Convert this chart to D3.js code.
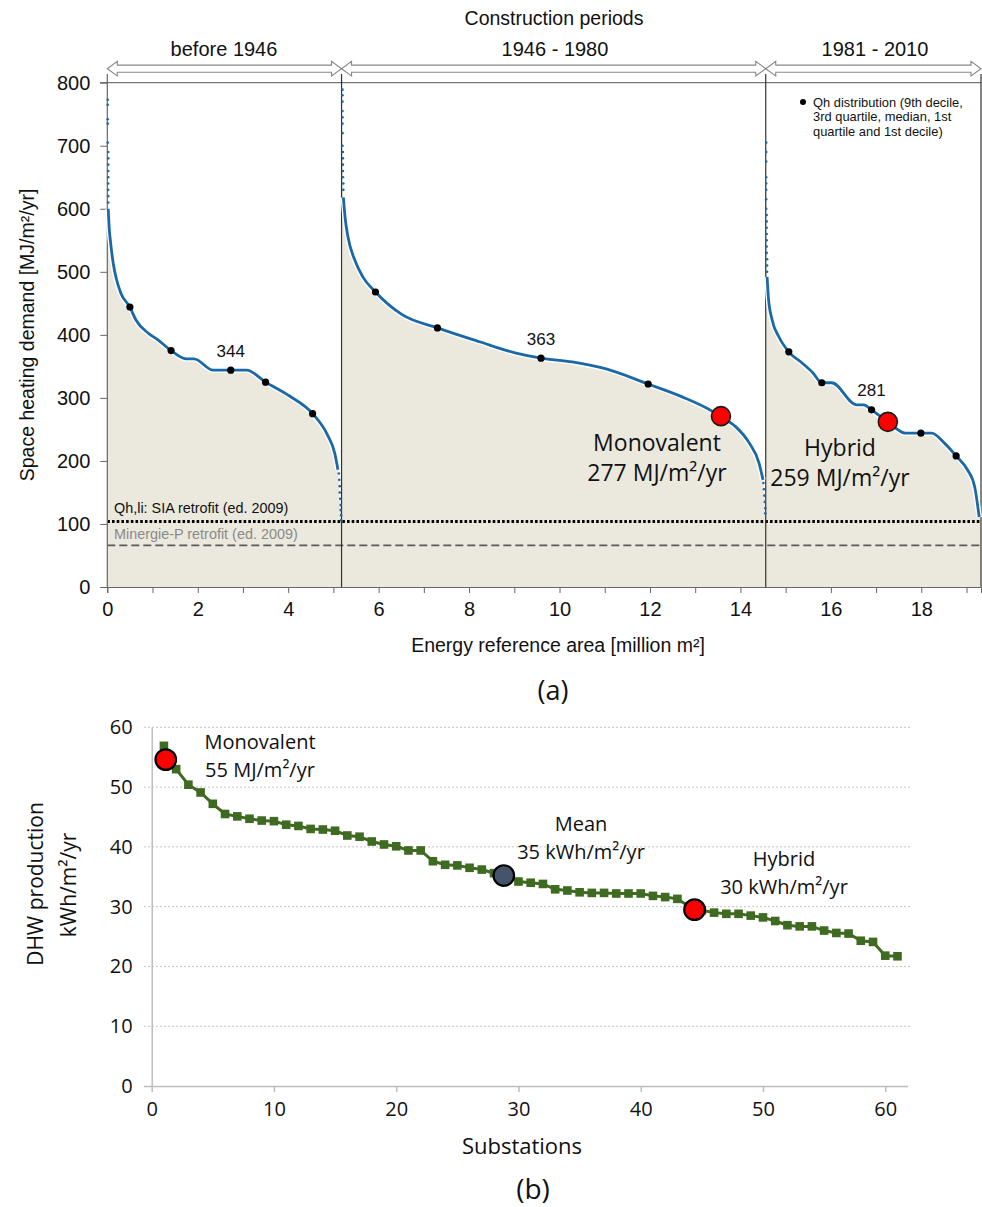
<!DOCTYPE html>
<html>
<head>
<meta charset="utf-8">
<script src="https://cdn.jsdelivr.net/npm/d3@7"></script>
<style>
  body { margin: 0; background: #fff; }
  svg text { fill: #111; }
</style>
</head>
<body>
<svg id="chart" width="982" height="1207"></svg>
<script>
// ---- (a) space heating demand by construction period ----
const periodNames = ['before 1946', '1946 - 1980', '1981 - 2010'];
const periodBounds = [0, 5.18, 14.56, 19.32];            // million m², cumulative
const areaTicks = [0, 2, 4, 6, 8, 10, 12, 14, 16, 18];
const demandTicks = [0, 100, 200, 300, 400, 500, 600, 700, 800];

// continuous part of each sorted curve [area, MJ/m²/yr]
const curveBefore1946 = [[0.02,600],[0.04,572],[0.08,542],[0.13,514],[0.2,489],[0.3,466],[0.5,444],[0.63,424],[0.9,403],
  [1.12,392],[1.41,375],[1.74,362],[1.92,362],[2.34,344],[2.73,344],[3.08,344],[3.5,325],[4.03,303],
  [4.54,275],[4.87,241],[5.03,212],[5.1,186]];
const curve1946to1980 = [[5.22,618],[5.26,585],[5.32,556],[5.47,519],[5.65,492],[5.93,468],[6.52,432],[7.3,411],
  [8.23,389],[9.04,371],[9.59,363],[10.28,357],[11.03,346],[11.96,322],[12.7,302],[13.3,282],[13.57,270],
  [13.9,254],[14.19,229],[14.41,197],[14.5,170]];
const curve1981to2010 = [[14.59,492],[14.62,458],[14.7,424],[14.85,397],[15.07,373],[15.37,355],[15.6,340],[15.8,324],
  [16.02,324],[16.57,289],[16.73,289],[16.9,281],[17.26,262],[17.65,244],[17.99,244],[18.23,244],
  [18.5,229],[18.77,208],[19.02,186],[19.18,159],[19.28,111]];

// scattered buildings in the steep ends of the curves
const tailDots = [
  [0.01,773],[0.01,765],[0.01,742],[0.01,735],[0.01,705],[0.02,690],[0.02,680],[0.02,670],[0.02,660],
  [0.02,650],[0.02,640],[0.02,630],[0.02,620],[0.02,610],
  [5.12,180],[5.13,170],[5.14,160],[5.14,150],[5.15,140],[5.16,130],[5.16,122],[5.17,114],[5.17,106],
  [5.2,789],[5.2,780],[5.2,770],[5.2,755],[5.2,745],[5.2,735],[5.2,720],[5.2,700],[5.21,690],[5.21,680],
  [5.21,670],[5.21,660],[5.21,650],[5.22,640],[5.22,630],
  [14.51,165],[14.52,155],[14.53,145],[14.54,135],[14.55,125],[14.55,117],
  [14.57,705],[14.57,690],[14.57,675],[14.57,650],[14.57,640],[14.57,630],[14.57,615],[14.57,600],
  [14.58,590],[14.58,580],[14.58,570],[14.58,560],[14.58,550],[14.58,540],[14.58,530],[14.59,520],
  [14.59,510],[14.59,500]];

// Qh distribution markers (9th decile, 3rd quartile, median, 1st quartile, 1st decile)
const qhDots = [[0.5,444],[1.41,375],[2.73,344],[3.5,325],[4.54,275],
  [5.93,468],[7.3,411],[9.59,363],[11.96,322],
  [15.07,373],[15.8,324],[16.9,281],[17.99,244],[18.77,208]];
const medians = [[2.73,344,'344'],[9.59,363,'363'],[16.9,281,'281']];
const sizeA = [[13.57,271,'Monovalent','277 MJ/m²/yr'],[17.26,262,'Hybrid','259 MJ/m²/yr']];
const sia = 104, minergie = 66;

// ---- (b) DHW production per substation ----
const substationTicks = [0, 10, 20, 30, 40, 50, 60];
const dhwTicks = [0, 10, 20, 30, 40, 50, 60];
const dhwValues = [56.9,53.0,50.4,49.1,47.2,45.5,45.1,44.7,44.4,44.3,43.7,43.5,43.0,42.9,42.7,41.9,41.7,
  40.9,40.4,40.1,39.4,39.4,37.6,37.0,36.9,36.5,36.2,35.6,35.2,34.2,34.0,33.8,32.9,32.7,32.4,32.3,32.3,
  32.2,32.2,32.2,31.8,31.6,31.3,30.0,29.4,29.0,28.8,28.8,28.5,28.2,27.6,26.9,26.7,26.7,26.0,25.6,25.5,
  24.3,24.1,21.8,21.7];
const sizeB = [[1.15,54.6,'Monovalent','55 MJ/m²/yr','#ff0000'],
  [28.8,35.2,'Mean','35 kWh/m²/yr','#44546a'],
  [44.4,29.5,'Hybrid','30 kWh/m²/yr','#ff0000']];

const svg = d3.select('#chart');
const ARIAL = 'Liberation Sans, Arial, sans-serif';
const SANS = 'Open Sans, Noto Sans, sans-serif';

// ================= (a) =================
const xa = d3.scaleLinear().domain([0, 19.32]).range([107.3, 981]);
const ya = d3.scaleLinear().domain([0, 800]).range([587, 82.7]);
const ga = svg.append('g');
const curves = [curveBefore1946, curve1946to1980, curve1981to2010];
const lineA = d3.line().x(d => xa(d[0])).y(d => ya(d[1])).curve(d3.curveMonotoneX);

// beige area under each curve, down to 0
curves.forEach((c, i) => {
  const x0 = periodBounds[i], x1 = periodBounds[i + 1];
  const tops = tailDots.filter(d => d[0] >= x0 && d[0] < x0 + 0.1).map(d => d[1]);
  const top = d3.max(tops.concat([c[0][1]]));
  const pts = [[x0, 0], [x0, top], [c[0][0], c[0][1]]].concat(c, [[x1, sia], [x1, 0]]);
  ga.append('path')
    .attr('d', d3.line().x(d => xa(d[0])).y(d => ya(d[1]))(pts))
    .attr('fill', '#ebe9dd');
});

// reference lines
ga.append('line').attr('x1', xa(0)).attr('x2', xa(19.32)).attr('y1', ya(minergie)).attr('y2', ya(minergie))
  .attr('stroke', '#5a5a5a').attr('stroke-width', 1.8).attr('stroke-dasharray', '8,4');
ga.append('line').attr('x1', xa(0)).attr('x2', xa(19.32)).attr('y1', ya(sia)).attr('y2', ya(sia))
  .attr('stroke', '#000').attr('stroke-width', 3).attr('stroke-dasharray', '2.6,2.1');

// frame
ga.append('line').attr('x1', 100).attr('x2', xa(19.32)).attr('y1', ya(800)).attr('y2', ya(800))
  .attr('stroke', '#777').attr('stroke-width', 1.2);
periodBounds.forEach(b => {
  ga.append('line').attr('x1', xa(b)).attr('x2', xa(b)).attr('y1', 74).attr('y2', ya(0))
    .attr('stroke', b === 0 ? '#666' : '#333').attr('stroke-width', 1.2);
});

// axes
const yAxisA = d3.axisLeft(ya).tickValues(demandTicks).tickSize(7).tickPadding(10);
ga.append('g').attr('transform', `translate(${xa(0)},0)`).call(yAxisA)
  .call(g => g.select('.domain').remove())
  .call(g => g.selectAll('line').attr('stroke', '#666'))
  .call(g => g.selectAll('text').attr('font-family', ARIAL).attr('font-size', 20).attr('fill', '#111'));
const xAxisA = d3.axisBottom(xa).tickValues(d3.range(0, 20, 1)).tickSize(6).tickPadding(9)
  .tickFormat(d => areaTicks.includes(d) ? d : '');
ga.append('g').attr('transform', `translate(0,${ya(0)})`).call(xAxisA)
  .call(g => g.select('.domain').attr('stroke', '#666'))
  .call(g => g.selectAll('line').attr('stroke', '#666'))
  .call(g => g.selectAll('text').attr('font-family', ARIAL).attr('font-size', 20).attr('fill', '#111'));

// curves
curves.forEach(c => {
  ga.append('path').attr('d', lineA(c)).attr('fill', 'none').attr('stroke', '#fff').attr('stroke-width', 5.5);
  ga.append('path').attr('d', lineA(c)).attr('fill', 'none').attr('stroke', '#1b68a6').attr('stroke-width', 2.8);
});
ga.selectAll('circle.tail').data(tailDots).join('circle').attr('class', 'tail')
  .attr('cx', d => xa(d[0])).attr('cy', d => ya(d[1])).attr('r', 1.3).attr('fill', '#1b68a6');
ga.selectAll('circle.qh').data(qhDots).join('circle').attr('class', 'qh')
  .attr('cx', d => xa(d[0])).attr('cy', d => ya(d[1])).attr('r', 3.6).attr('fill', '#000');
ga.selectAll('text.med').data(medians).join('text').attr('class', 'med')
  .attr('x', d => xa(d[0])).attr('y', d => ya(d[1]) - 19).attr('text-anchor', 'middle')
  .attr('dominant-baseline', 'central').attr('font-family', ARIAL).attr('font-size', 17).text(d => d[2]);

// monovalent / hybrid
ga.selectAll('circle.sz').data(sizeA).join('circle').attr('class', 'sz')
  .attr('cx', d => xa(d[0])).attr('cy', d => ya(d[1])).attr('r', 9.5)
  .attr('fill', '#ff0000').attr('stroke', '#1a1a1a').attr('stroke-width', 1.6);
sizeA.forEach((d, i) => {
  const cx = i === 0 ? 657 : 840, cy = i === 0 ? 442 : 447;
  ga.append('text').attr('x', cx).attr('y', cy).attr('text-anchor', 'middle').attr('dominant-baseline', 'central')
    .attr('font-family', SANS).attr('font-size', 23).attr('fill', '#222').text(d[2]);
  ga.append('text').attr('x', cx).attr('y', cy + 30).attr('text-anchor', 'middle').attr('dominant-baseline', 'central')
    .attr('font-family', SANS).attr('font-size', 23).attr('fill', '#222').text(d[3]);
});

// reference line labels
ga.append('text').attr('x', 114).attr('y', 508).attr('dominant-baseline', 'central')
  .attr('font-family', ARIAL).attr('font-size', 14.4).text('Qh,li: SIA retrofit (ed. 2009)');
ga.append('text').attr('x', 114).attr('y', 534).attr('dominant-baseline', 'central')
  .attr('font-family', ARIAL).attr('font-size', 14.4).style('fill', '#8a8a8a').text('Minergie-P retrofit (ed. 2009)');

// legend
ga.append('circle').attr('cx', 803).attr('cy', 102).attr('r', 3).attr('fill', '#000');
['Qh distribution (9th decile,', '3rd quartile, median, 1st', 'quartile and 1st decile)'].forEach((t, i) => {
  ga.append('text').attr('x', 813).attr('y', 102 + i * 14.8).attr('dominant-baseline', 'central')
    .attr('font-family', ARIAL).attr('font-size', 12.9).text(t);
});

// period arrows
periodNames.forEach((name, i) => {
  const a = xa(periodBounds[i]), b = xa(periodBounds[i + 1]), cy = 68.7, hs = 3.6, hh = 7.3, hl = 10;
  const pts = [[a, cy], [a + hl, cy - hh], [a + hl, cy - hs], [b - hl, cy - hs], [b - hl, cy - hh], [b, cy],
    [b - hl, cy + hh], [b - hl, cy + hs], [a + hl, cy + hs], [a + hl, cy + hh]];
  ga.append('path').attr('d', d3.line()(pts) + 'Z').attr('fill', '#fff').attr('stroke', '#888').attr('stroke-width', 1.1);
  const cxs = [224, 555, 875];
  ga.append('text').attr('x', cxs[i]).attr('y', 49).attr('text-anchor', 'middle').attr('dominant-baseline', 'central')
    .attr('font-family', ARIAL).attr('font-size', 20).text(name);
});
ga.append('text').attr('x', 554).attr('y', 18).attr('text-anchor', 'middle').attr('dominant-baseline', 'central')
  .attr('font-family', ARIAL).attr('font-size', 19.5).text('Construction periods');

// axis titles
ga.append('text').attr('transform', 'translate(27,335) rotate(-90)').attr('text-anchor', 'middle')
  .attr('dominant-baseline', 'central').attr('font-family', ARIAL).attr('font-size', 19.5)
  .text('Space heating demand [MJ/m²/yr]');
ga.append('text').attr('x', 558).attr('y', 645).attr('text-anchor', 'middle').attr('dominant-baseline', 'central')
  .attr('font-family', ARIAL).attr('font-size', 19.5).text('Energy reference area [million m²]');
ga.append('text').attr('x', 553).attr('y', 689).attr('text-anchor', 'middle').attr('dominant-baseline', 'central')
  .attr('font-family', SANS).attr('font-size', 27).text('(a)');

// ================= (b) =================
const xb = d3.scaleLinear().domain([0, 62]).range([151.7, 909.7]);
const yb = d3.scaleLinear().domain([0, 60]).range([1086, 727.3]);
const gb = svg.append('g');

gb.selectAll('line.grid').data(dhwTicks.slice(1)).join('line').attr('class', 'grid')
  .attr('x1', 144).attr('x2', 911).attr('y1', d => yb(d)).attr('y2', d => yb(d))
  .attr('stroke', '#c4c4c4').attr('stroke-width', 1).attr('stroke-dasharray', '2,2');

const yAxisB = d3.axisLeft(yb).tickValues(dhwTicks).tickSize(0).tickPadding(19);
gb.append('g').attr('transform', `translate(${xb(0)},0)`).call(yAxisB)
  .call(g => g.select('.domain').attr('stroke', '#bdbdbd').attr('stroke-width', 1.5))
  .call(g => g.selectAll('text').attr('font-family', SANS).attr('font-size', 20).attr('fill', '#3a3a3a'));
const xAxisB = d3.axisBottom(xb).tickValues(substationTicks).tickSize(6).tickPadding(10).tickSizeOuter(0);
gb.append('g').attr('transform', `translate(0,${yb(0)})`).call(xAxisB)
  .call(g => g.select('.domain').attr('stroke', '#bdbdbd').attr('stroke-width', 1.5).attr('d', 'M144,0.5H908'))
  .call(g => g.selectAll('line').attr('stroke', '#bdbdbd').attr('stroke-width', 1.5))
  .call(g => g.selectAll('text').attr('font-family', SANS).attr('font-size', 20).attr('fill', '#3a3a3a'));

const lineB = d3.line().x((d, i) => xb(i + 1)).y(d => yb(d));
gb.append('path').attr('d', lineB(dhwValues)).attr('fill', 'none').attr('stroke', '#3f6a21').attr('stroke-width', 3);
gb.selectAll('rect.sq').data(dhwValues).join('rect').attr('class', 'sq')
  .attr('x', (d, i) => xb(i + 1) - 4.3).attr('y', d => yb(d) - 4.3).attr('width', 8.6).attr('height', 8.6)
  .attr('fill', '#3f6a21');

gb.selectAll('circle.szb').data(sizeB).join('circle').attr('class', 'szb')
  .attr('cx', d => xb(d[0])).attr('cy', d => yb(d[1])).attr('r', 10.3)
  .attr('fill', d => d[4]).attr('stroke', '#000').attr('stroke-width', 2.2);
const labelPos = [[260, 741], [581, 823], [784, 858]];
sizeB.forEach((d, i) => {
  const [cx, cy] = labelPos[i];
  gb.append('text').attr('x', cx).attr('y', cy).attr('text-anchor', 'middle').attr('dominant-baseline', 'central')
    .attr('font-family', SANS).attr('font-size', 20).attr('fill', '#222').text(d[2]);
  gb.append('text').attr('x', cx).attr('y', cy + 28).attr('text-anchor', 'middle').attr('dominant-baseline', 'central')
    .attr('font-family', SANS).attr('font-size', 20).attr('fill', '#222').text(d[3]);
});

gb.append('text').attr('transform', 'translate(35,884) rotate(-90)').attr('text-anchor', 'middle')
  .attr('dominant-baseline', 'central').attr('font-family', SANS).attr('font-size', 21).text('DHW production');
gb.append('text').attr('transform', 'translate(68,885) rotate(-90)').attr('text-anchor', 'middle')
  .attr('dominant-baseline', 'central').attr('font-family', SANS).attr('font-size', 21).text('kWh/m²/yr');
gb.append('text').attr('x', 522).attr('y', 1145).attr('text-anchor', 'middle').attr('dominant-baseline', 'central')
  .attr('font-family', SANS).attr('font-size', 22).text('Substations');
gb.append('text').attr('x', 533).attr('y', 1188).attr('text-anchor', 'middle').attr('dominant-baseline', 'central')
  .attr('font-family', SANS).attr('font-size', 28).text('(b)');
</script>
</body>
</html>
